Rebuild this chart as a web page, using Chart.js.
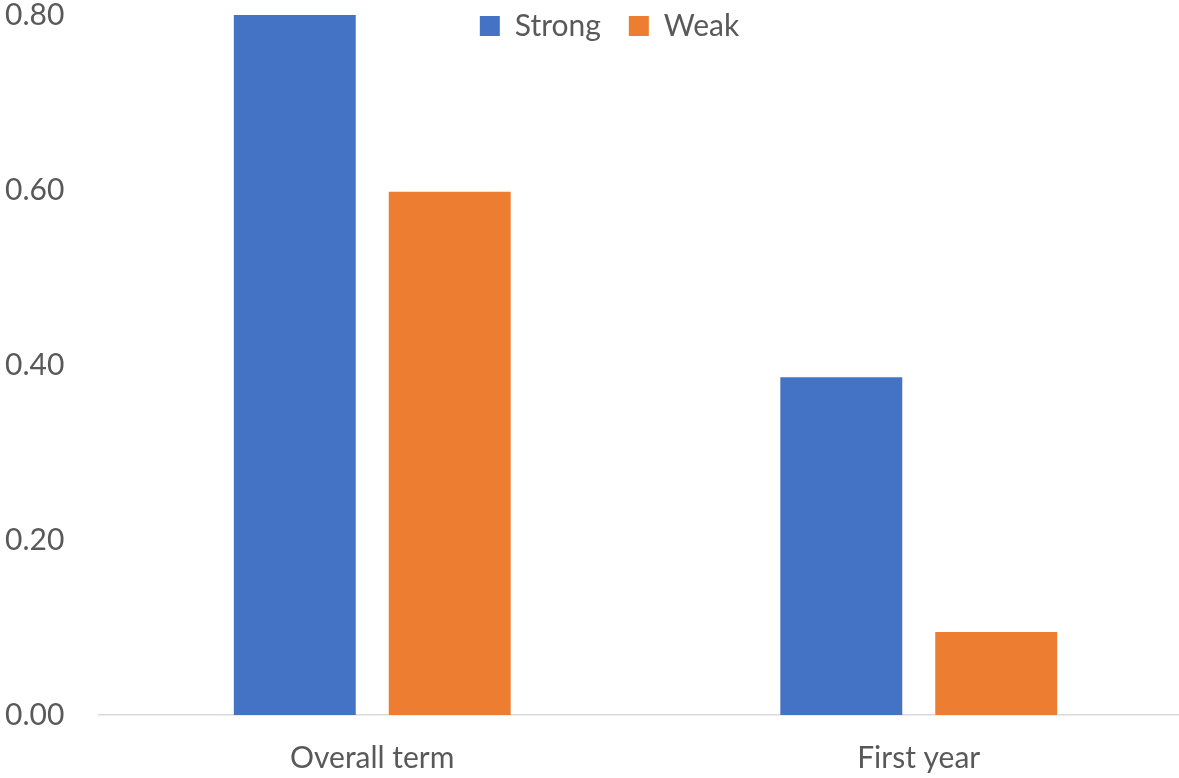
<!DOCTYPE html>
<html>
<head>
<meta charset="utf-8">
<script src="https://cdn.jsdelivr.net/npm/chart.js@4/dist/chart.umd.min.js"></script>
<style>
  html, body { margin: 0; padding: 0; background: #fff; overflow: hidden; }
  #wrap { position: relative; width: 1200px; height: 778px; }
</style>
</head>
<body>
<div id="wrap"><canvas id="myChart"></canvas></div>
<script>
const categories = ['Overall term', 'First year'];
const strongValues = [0.80, 0.386];
const weakValues = [0.598, 0.095];
const yTicks = [0, 0.2, 0.4, 0.6, 0.8];

const textColor = '#595959';
Chart.defaults.font.family = 'Lato, "Noto Sans", sans-serif';
Chart.defaults.color = textColor;

// legend sits inside the plot area, so it must not take any layout space
const legendFloat = {
  id: 'legendFloat',
  beforeLayout(chart) {
    const lg = chart.legend;
    if (lg && !lg._floatPatched) {
      const fit = lg.fit;
      lg.fit = function () { fit.call(this); this.height = 0; };
      lg._floatPatched = true;
    }
  },
  afterLayout(chart) {
    const lg = chart.legend;
    if (!lg) return;
    lg.left += 11;
    lg.right += 11;
    lg.top = -17;
    lg.bottom = 50;
    lg.height = 67;
  }
};

const ctx = document.getElementById('myChart').getContext('2d');

new Chart(ctx, {
  type: 'bar',
  data: {
    labels: categories,
    datasets: [
      {
        label: 'Strong',
        data: strongValues,
        backgroundColor: '#4472C4',
        categoryPercentage: 0.567,
        barPercentage: 0.787,
      },
      {
        label: 'Weak',
        data: weakValues,
        backgroundColor: '#ED7D31',
        categoryPercentage: 0.567,
        barPercentage: 0.787,
      },
    ],
  },
  options: {
    responsive: true,
    maintainAspectRatio: false,
    animation: false,
    layout: {
      padding: { left: 5, right: 8, top: 0, bottom: 5 },
    },
    plugins: {
      tooltip: { enabled: false },
      legend: {
        position: 'top',
        labels: {
          boxWidth: 20,
          boxHeight: 20,
          padding: 28,
          color: textColor,
          font: { size: 30, lineHeight: 1 },
        },
      },
    },
    scales: {
      x: {
        grid: { display: false, drawTicks: false },
        border: { display: true, color: '#d9d9d9', width: 1.5 },
        afterFit(scale) { scale.height = 58; },
        ticks: {
          padding: 28,
          color: textColor,
          font: { size: 30, lineHeight: 1 },
        },
      },
      y: {
        min: 0,
        max: 0.8,
        grid: { display: false, drawTicks: false },
        border: { display: false },
        afterFit(scale) { scale.width = 94; },
        afterBuildTicks(scale) {
          scale.ticks = yTicks.map(v => ({ value: v }));
        },
        ticks: {
          crossAlign: 'far',
          padding: 0,
          color: textColor,
          font: { size: 30, lineHeight: 1 },
          callback: function (value) {
            return Number(value).toFixed(2);
          },
        },
      },
    },
  },
  plugins: [legendFloat],
});
</script>
</body>
</html>
